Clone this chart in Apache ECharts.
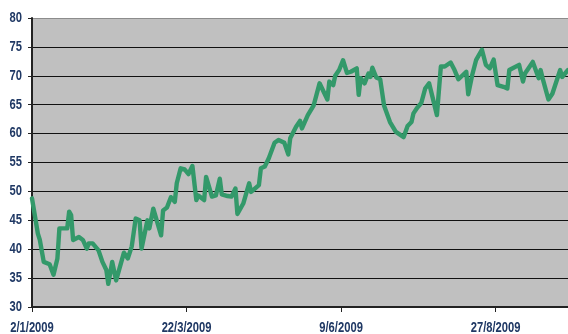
<!DOCTYPE html>
<html>
<head>
<meta charset="utf-8">
<title>2009 daily series</title>
<script src="https://cdn.jsdelivr.net/npm/echarts@6/dist/echarts.min.js"></script>
<style>
  html, body { margin: 0; padding: 0; background: #ffffff; }
  #chart { width: 568px; height: 334px; }
</style>
</head>
<body>
<div id="chart"></div>
<script>
// Observation dates (2009) and the value recorded on each
const dates = [
  '2009-01-02','2009-01-05','2009-01-06','2009-01-08','2009-01-11','2009-01-13','2009-01-15','2009-01-16',
  '2009-01-20','2009-01-21','2009-01-22','2009-01-23','2009-01-26','2009-01-28','2009-01-30','2009-01-31',
  '2009-02-02','2009-02-03','2009-02-05','2009-02-07','2009-02-09','2009-02-10','2009-02-12','2009-02-14',
  '2009-02-18','2009-02-20','2009-02-22','2009-02-24','2009-02-26','2009-02-27','2009-03-02','2009-03-03',
  '2009-03-05','2009-03-09','2009-03-10','2009-03-12','2009-03-14','2009-03-16','2009-03-17','2009-03-18',
  '2009-03-19','2009-03-21','2009-03-23','2009-03-25','2009-03-27','2009-03-28','2009-03-31','2009-04-01',
  '2009-04-02','2009-04-04','2009-04-06','2009-04-08','2009-04-09','2009-04-12','2009-04-14','2009-04-16',
  '2009-04-17','2009-04-20','2009-04-23','2009-04-24','2009-04-28','2009-04-29','2009-05-01','2009-05-03',
  '2009-05-04','2009-05-06','2009-05-08','2009-05-11','2009-05-13','2009-05-14','2009-05-17','2009-05-19',
  '2009-05-20','2009-05-23','2009-05-26','2009-05-29','2009-05-30','2009-06-02','2009-06-03','2009-06-05',
  '2009-06-06','2009-06-08','2009-06-10','2009-06-12','2009-06-14','2009-06-17','2009-06-18','2009-06-19',
  '2009-06-21','2009-06-23','2009-06-24','2009-06-25','2009-06-27','2009-06-29','2009-07-01','2009-07-04',
  '2009-07-07','2009-07-08','2009-07-11','2009-07-13','2009-07-15','2009-07-16','2009-07-18','2009-07-20',
  '2009-07-22','2009-07-24','2009-07-28','2009-07-30','2009-08-01','2009-08-04','2009-08-06','2009-08-08',
  '2009-08-12','2009-08-13','2009-08-15','2009-08-17','2009-08-20','2009-08-22','2009-08-24','2009-08-26',
  '2009-08-28','2009-08-31','2009-09-02','2009-09-03','2009-09-08','2009-09-09','2009-09-10','2009-09-11',
  '2009-09-15','2009-09-18','2009-09-19','2009-09-20','2009-09-23','2009-09-25','2009-09-29','2009-09-30',
  '2009-10-03'
];
const values = [
  48.8, 42.7, 41.6, 37.8, 37.4, 35.6, 38.4, 43.6,
  43.6, 46.5, 45.9, 41.6, 42.1, 41.6, 40.1, 41.0,
  41.0, 41.3, 39.8, 37.8, 36.4, 34.0, 37.8, 34.6,
  39.4, 38.4, 40.5, 45.3, 45.0, 40.1, 45.0, 43.6,
  47.0, 42.4, 46.7, 47.2, 49.0, 48.2, 51.4, 51.6,
  54.0, 53.8, 53.0, 54.4, 48.5, 49.3, 48.5, 52.5,
  52.2, 49.1, 49.3, 52.2, 49.5, 49.2, 49.1, 50.5,
  46.1, 47.9, 51.4, 49.9, 51.1, 54.0, 54.3, 55.7,
  56.6, 58.4, 58.9, 58.4, 56.4, 59.2, 61.2, 62.2,
  60.9, 63.2, 64.9, 68.7, 68.4, 65.9, 69.0, 68.4,
  70.0, 71.0, 72.7, 70.5, 70.7, 71.3, 66.7, 69.6,
  68.7, 70.4, 69.8, 71.4, 69.7, 69.4, 64.8, 62.0,
  60.3, 60.6, 59.4, 61.3, 62.0, 63.5, 64.5, 65.3,
  67.8, 68.7, 63.2, 71.6, 71.6, 72.3, 71.0, 69.4,
  70.7, 66.8, 70.1, 72.7, 74.5, 71.9, 71.3, 72.8,
  68.4, 68.1, 67.8, 71.0, 71.9, 72.2, 69.0, 70.4,
  72.4, 69.6, 71.0, 69.6, 65.9, 66.9, 71.0, 69.8,
  71.0
];

// Axis settings
const axisStart = '2009-01-02';
const axisEndDay = 274;        // last day shown on the horizontal axis
const labelStepDays = 79;      // spacing between date labels
const xLabelDays = [0, 79, 158, 237];
const yTicks = [30, 35, 40, 45, 50, 55, 60, 65, 70, 75, 80];

const DAY = 86400000;
const t0 = Date.parse(axisStart + 'T00:00:00Z');
const toDay = s => Math.round((Date.parse(s + 'T00:00:00Z') - t0) / DAY);
const seriesData = dates.map((d, i) => [toDay(d), values[i]]);

const fmtDay = v => {
  const d = new Date(t0 + v * DAY);
  return d.getUTCDate() + '/' + (d.getUTCMonth() + 1) + '/' + d.getUTCFullYear();
};

// Bold labels, horizontally condensed to a narrow face
const LABEL_FONT = 'bold 14px "Liberation Sans", Arial, sans-serif';
const LABEL_COLOR = '#1F3864';
const NARROW = 0.8;

// Gridline colours: dark for every level, grey for the top edge
const gridColours = yTicks.map((v, i) => i === yTicks.length - 1 ? '#8c8c8c' : '#111111');

const chart = echarts.init(document.getElementById('chart'), null, { renderer: 'canvas' });
chart.setOption({
  animation: false,
  backgroundColor: '#ffffff',
  grid: {
    left: 32, right: 0, top: 18, bottom: 27,
    show: true, backgroundColor: '#c0c0c0', borderWidth: 0
  },
  xAxis: {
    type: 'value',
    min: 0,
    max: axisEndDay,
    interval: labelStepDays,
    axisLine: { show: true, lineStyle: { color: '#222222', width: 2 } },
    axisTick: { show: true, length: 5, lineStyle: { color: '#222222', width: 1 } },
    splitLine: { show: false },
    axisLabel: { show: false }
  },
  yAxis: {
    type: 'value',
    min: yTicks[0],
    max: yTicks[yTicks.length - 1],
    interval: 5,
    axisLine: { show: true, lineStyle: { color: '#222222', width: 2 } },
    axisTick: { show: true, length: 4, lineStyle: { color: '#222222', width: 1 } },
    splitLine: { show: true, lineStyle: { color: gridColours, width: 1.2 } },
    axisLabel: { show: false }
  },
  series: [{
    type: 'line',
    data: seriesData,
    symbol: 'none',
    smooth: false,
    lineStyle: { color: '#33996a', width: 4.4, join: 'round', cap: 'round' },
    z: 3
  }]
});

// Tick labels placed from the axis scales
const labels = [];
yTicks.forEach(v => {
  const p = chart.convertToPixel({ gridIndex: 0 }, [0, v]);
  labels.push({
    type: 'text', x: p[0] - 10, y: p[1], scaleX: NARROW, silent: true,
    style: { text: String(v), font: LABEL_FONT, fill: LABEL_COLOR, align: 'right', verticalAlign: 'middle' }
  });
});
xLabelDays.forEach(d => {
  const p = chart.convertToPixel({ gridIndex: 0 }, [d, yTicks[0]]);
  labels.push({
    type: 'text', x: p[0], y: p[1] + 21, scaleX: NARROW, silent: true,
    style: { text: fmtDay(d), font: LABEL_FONT, fill: LABEL_COLOR, align: 'center', verticalAlign: 'middle' }
  });
});
chart.setOption({ graphic: { elements: labels } });
</script>
</body>
</html>
